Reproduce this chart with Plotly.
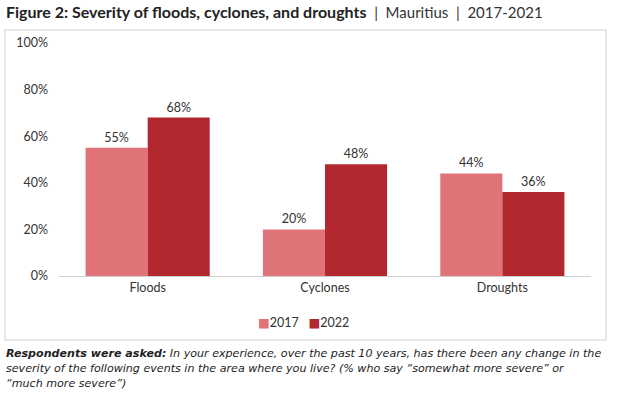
import plotly.graph_objects as go

categories = ["Floods", "Cyclones", "Droughts"]
values_2017 = [55, 20, 44]
values_2022 = [68, 48, 36]
series_names = ["2017", "2022"]
tick_vals = [0, 20, 40, 60, 80, 100]
tick_text = ["0%", "20%", "40%", "60%", "80%", "100%"]

FONT = "Lato, 'DejaVu Sans', sans-serif"
WIDE = "'DejaVu Sans', sans-serif"
colors = ["#E07377", "#B3272E"]

fig = go.Figure()
for name, vals, c in zip(series_names, [values_2017, values_2022], colors):
    fig.add_trace(go.Bar(
        x=categories, y=vals, name=name, marker=dict(color=c, line=dict(width=0)),
        text=[f"{v}%" for v in vals], textposition="outside", cliponaxis=False,
        textfont=dict(size=12.5, color="#333333", family=FONT),
    ))

W, H = 617, 393
l, r, t, b = 59, 26, 43, 117
pw, ph = W - l - r, H - t - b

def px(x):
    return (x - l) / pw

def py(y):
    return (H - b - y) / ph

legend_text = (f"<span style='color:{colors[0]}'>■</span>{series_names[0]}"
               f"&nbsp;&nbsp;&nbsp;<span style='color:{colors[1]}'>■</span>{series_names[1]}")

title_text = ("<span style=\"font-size:16px;font-weight:bold;color:#222222\">Figure 2: Severity of floods, cyclones, and droughts</span>"
              "<span style=\"font-size:15px;color:#333333\"> &nbsp;| &nbsp;Mauritius &nbsp;| &nbsp;2017-2021</span>")

fig.update_layout(
    width=W, height=H, margin=dict(l=l, r=r, t=t, b=b, autoexpand=False),
    paper_bgcolor="white", plot_bgcolor="white",
    barmode="group", bargap=0.3, bargroupgap=0,
    font=dict(family=FONT, size=12, color="#333333"),
    showlegend=False,
    xaxis=dict(showline=True, linecolor="#D0D0D0", linewidth=1, ticks="",
               tickfont=dict(size=12.5, color="#333333"), showgrid=False),
    yaxis=dict(range=[0, 100], tickvals=tick_vals, ticktext=tick_text, showgrid=False,
               zeroline=False, showline=False, ticks="", ticklabelstandoff=10,
               tickfont=dict(size=12.5, color="#333333")),
    shapes=[dict(type="rect", xref="paper", yref="paper", x0=px(5), x1=px(606),
                 y0=py(340), y1=py(30), line=dict(color="#E0E0E0", width=1.5),
                 fillcolor="rgba(0,0,0,0)", layer="below")],
    annotations=[
        dict(xref="paper", yref="paper", x=px(303), y=py(322), xanchor="center", yanchor="middle",
             showarrow=False, text=legend_text, font=dict(size=12.5, color="#333333", family=FONT)),
        dict(xref="paper", yref="paper", x=px(4), y=py(12), xanchor="left", yanchor="middle",
             showarrow=False, align="left", text=title_text,
             font=dict(size=15, color="#222222", family=FONT)),
        dict(xref="paper", yref="paper", x=px(4), y=py(353), xanchor="left", yanchor="middle",
             showarrow=False, align="left",
             text="<b><i>Respondents were asked:</i></b><i> In your experience, over the past 10 years, has there been any change in the</i>",
             font=dict(size=11.1, color="#222222", family=WIDE)),
        dict(xref="paper", yref="paper", x=px(4), y=py(368.5), xanchor="left", yanchor="middle",
             showarrow=False, align="left",
             text="<i>severity of the following events in the area where you live? (% who say “somewhat more severe” or</i>",
             font=dict(size=11.1, color="#222222", family=WIDE)),
        dict(xref="paper", yref="paper", x=px(4), y=py(383.5), xanchor="left", yanchor="middle",
             showarrow=False, align="left",
             text="<i>“much more severe”)</i>",
             font=dict(size=11.1, color="#222222", family=WIDE)),
    ],
)

fig.write_html("out.html", config={"displayModeBar": False},
               post_script="document.body.style.margin='0';document.body.style.padding='0';")
